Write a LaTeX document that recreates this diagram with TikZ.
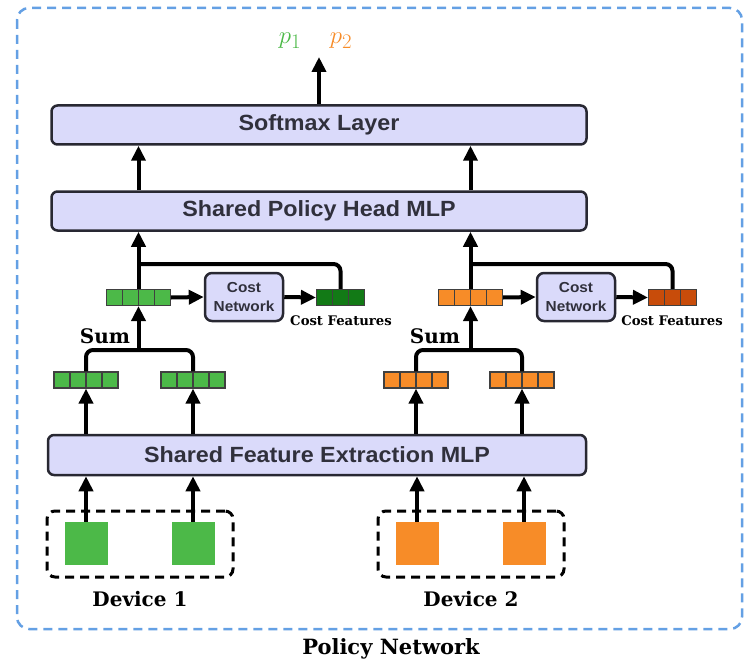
\documentclass[tikz,border=0pt]{standalone}
\usepackage{fontspec}
\setmainfont{Liberation Sans}
\newfontfamily\boxfont{Liberation Sans}[FakeStretch=1.06]
\newfontfamily\serifbold{DejaVu Serif}
\usetikzlibrary{arrows.meta}

\definecolor{gfill}{RGB}{76,185,72}
\definecolor{gdark}{RGB}{18,122,22}
\definecolor{ofill}{RGB}{247,140,40}
\definecolor{odark}{RGB}{200,76,10}
\definecolor{lav}{RGB}{218,218,250}
\definecolor{edge}{RGB}{40,40,50}
\definecolor{txt}{RGB}{48,48,60}
\definecolor{framecol}{RGB}{100,160,228}

\tikzset{
  layer/.style={draw=edge, fill=lav, line width=2.5pt, rounded corners=6pt,
    inner sep=0pt, text=txt, font=\boxfont\bfseries\fontsize{22}{26}\selectfont},
  costnet/.style={layer, align=center, minimum width=78pt, minimum height=48pt,
    rounded corners=7pt, font=\boxfont\bfseries\fontsize{14.5}{18.5}\selectfont},
  cells/.style={draw=black!75, line width=1.2pt, inner sep=0pt,
    minimum height=16pt, minimum width=#1*16pt,
    path picture={
      \pgfmathtruncatemacro\ncut{#1-1}
      \foreach \k in {1,...,\ncut}
        \draw[black!75, line width=1.2pt]
          ([xshift=\k*16pt]path picture bounding box.south west) --
          ([xshift=\k*16pt]path picture bounding box.north west);}},
  inputsq/.style={inner sep=0pt, minimum width=43pt, minimum height=43pt},
  devbox/.style={draw=black, line width=3pt, dash pattern=on 9pt off 6pt,
    rounded corners=8pt, inner sep=0pt},
  serlabel/.style={font=\serifbold\bfseries\fontsize{20}{24}\selectfont},
  costlabel/.style={font=\serifbold\bfseries\fontsize{13.2}{16}\selectfont},
  outlabel/.style={font=\fontsize{31}{34}\selectfont},
  arr/.style={line width=4pt, -{Triangle[length=15pt,width=14pt]}},
  wire/.style={line width=4pt, rounded corners=7pt},
}

\begin{document}
\begin{tikzpicture}[x=1pt, y=-1pt]
\useasboundingbox (0,0) rectangle (746,663);

% outer frame of the policy network
\draw[framecol, line width=2.5pt, dash pattern=on 9pt off 6pt, rounded corners=12pt]
  (17,8) rectangle (742,629);
\node[serlabel, font=\serifbold\bfseries\fontsize{21}{25}\selectfont] (title) at (391,649) {Policy Network};

% shared layers
\node[layer, minimum width=535pt, minimum height=39pt] (soft) at (319,125) {Softmax Layer};
\node[layer, minimum width=535pt, minimum height=39pt] (head) at (319,211) {Shared Policy Head MLP};
\node[layer, minimum width=538pt, minimum height=40pt] (feat) at (317,455) {Shared Feature Extraction MLP};

% outputs
\node[outlabel, text=gfill] (p1) at (290,41) {$p_1$};
\node[outlabel, text=ofill] (p2) at (341,41) {$p_2$};
\coordinate (pout) at (319,57);

% device 1 (green)
\node[devbox, minimum width=186pt, minimum height=66pt] (dev1) at (140,544) {};
\node[inputsq, fill=gfill] (dg1) at (86,543.5) {};
\node[inputsq, fill=gfill] (dg2) at (193,543.5) {};
\node[serlabel] (dev1lab) at (140,599) {Device 1};
\node[cells=4, fill=gfill] (lg1) at (86,380) {};
\node[cells=4, fill=gfill] (lg2) at (193,380) {};
\node[serlabel] (sumg) at (105,336) {Sum};
\node[cells=4, fill=gfill] (vg) at (138.5,297.5) {};
\node[costnet] (cng) at (244,297) {Cost\\Network};
\node[cells=3, fill=gdark] (cfg) at (340.5,297.5) {};
\node[costlabel] (cflg) at (341,321) {Cost Features};
\coordinate (sg) at (138.5,350);
\coordinate (bg) at (138.5,264);

% device 2 (orange)
\node[devbox, minimum width=186pt, minimum height=66pt] (dev2) at (471,544) {};
\node[inputsq, fill=ofill] (do1) at (417,543.5) {};
\node[inputsq, fill=ofill] (do2) at (524,543.5) {};
\node[serlabel] (dev2lab) at (471,599) {Device 2};
\node[cells=4, fill=ofill] (lo1) at (416,380) {};
\node[cells=4, fill=ofill] (lo2) at (522,380) {};
\node[serlabel] (sumo) at (435,336) {Sum};
\node[cells=4, fill=ofill] (vo) at (470.5,297.5) {};
\node[costnet] (cno) at (576,297) {Cost\\Network};
\node[cells=3, fill=odark] (cfo) at (672.5,297.5) {};
\node[costlabel] (cflo) at (672,321) {Cost Features};
\coordinate (so) at (470.5,350);
\coordinate (bo) at (470.5,264);

% connectors, green branch
\draw[arr] (dg1.north) -- (feat.south -| dg1);
\draw[arr] (dg2.north) -- (feat.south -| dg2);
\draw[arr] (feat.north -| lg1) -- (lg1.south);
\draw[arr] (feat.north -| lg2) -- (lg2.south);
\draw[wire] (lg1.north) |- (sg) -| (lg2.north);
\draw[arr] (sg) -- (vg.south);
\draw[wire] (bg) -| (cfg.north);
\draw[arr] (vg.east) -- (cng.west);
\draw[arr] (cng.east) -- (cfg.west);
\draw[arr] (vg.north) -- (head.south -| vg);
\draw[arr] (head.north -| vg) -- (soft.south -| vg);

% connectors, orange branch
\draw[arr] (do1.north) -- (feat.south -| do1);
\draw[arr] (do2.north) -- (feat.south -| do2);
\draw[arr] (feat.north -| lo1) -- (lo1.south);
\draw[arr] (feat.north -| lo2) -- (lo2.south);
\draw[wire] (lo1.north) |- (so) -| (lo2.north);
\draw[arr] (so) -- (vo.south);
\draw[wire] (bo) -| (cfo.north);
\draw[arr] (vo.east) -- (cno.west);
\draw[arr] (cno.east) -- (cfo.west);
\draw[arr] (vo.north) -- (head.south -| vo);
\draw[arr] (head.north -| vo) -- (soft.south -| vo);

% output
\draw[arr] (soft.north -| pout) -- (pout);
\end{tikzpicture}
\end{document}
